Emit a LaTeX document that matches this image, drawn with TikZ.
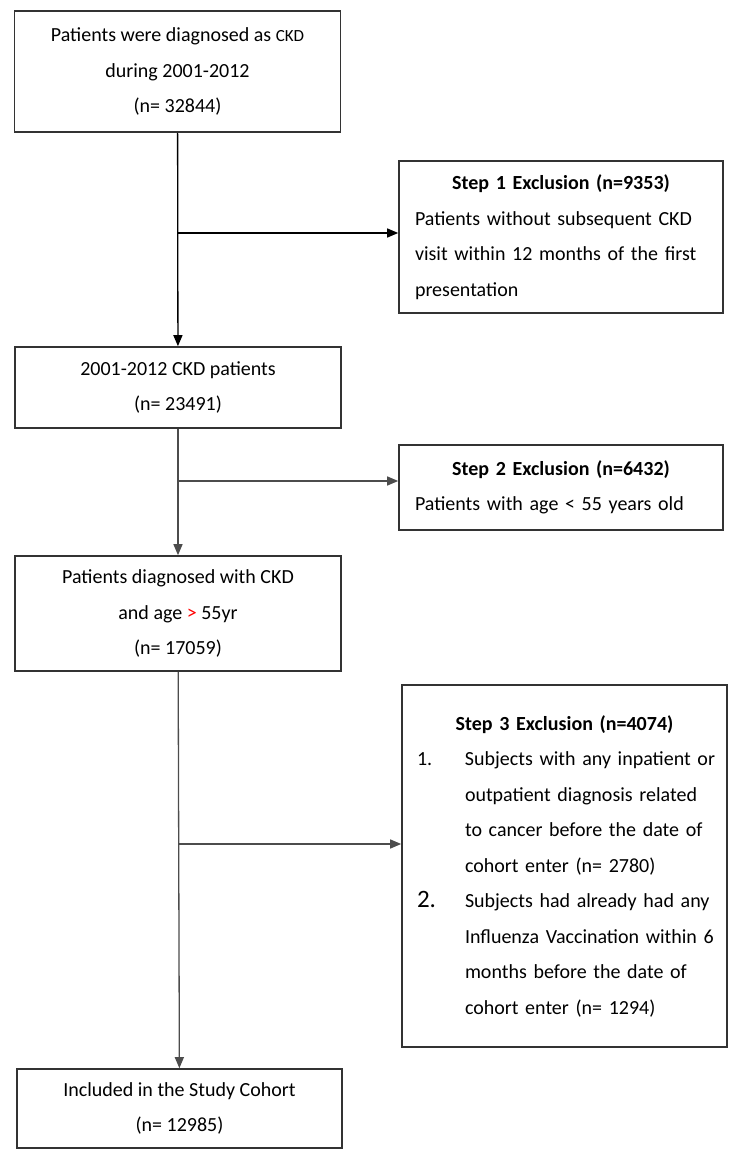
\documentclass[tikz,border=0pt]{standalone}
\usepackage{fontspec}
\setmainfont{Carlito}
\usetikzlibrary{arrows.meta}
\setlength{\parindent}{0pt}

\begin{document}
\begin{tikzpicture}[x=1pt,y=-1pt,
    flowbox/.style ={draw=black!80, line width=1.6pt, align=center,
      font=\fontsize{20}{35.5}\selectfont, minimum width=326pt},
    exclusion/.style ={draw=black!80, line width=1.6pt, text width=292pt,
      inner xsep=16pt, font=\fontsize{20}{35.5}\selectfont},
    connector/.style ={line width=1.3pt, -{Triangle[length=11pt,width=9pt]}}]
   \useasboundingbox (0,0) rectangle (738,1165);

   \node[flowbox, minimum height=121pt] (diagnosed) at (177.5,71.5)
     {Patients were diagnosed as {\fontsize{17}{35.5}\selectfont CKD}\\ during 2001-2012\\ (n= 32844)};
   \node[exclusion, minimum height=152pt] (step1) at (561,237)
     {{\centering\textbf{Step 1 Exclusion (n=9353)}\par}
      \raggedright Patients without subsequent CKD\\ visit within 12 months of the first\\ presentation};
   \node[flowbox, minimum height=81pt] (ckd) at (178,387.5)
     {2001-2012 CKD patients\\ (n= 23491)};
   \node[exclusion, minimum height=85pt] (step2) at (561,487.5)
     {{\centering\textbf{Step 2 Exclusion (n=6432)}\par}
      \raggedright Patients with age < 55 years old};
   \node[exclusion, minimum height=362pt, text width=295pt, inner xsep=15pt] (step3) at (564.5,866)
     {{\centering\textbf{Step 3 Exclusion (n=4074)}\par}
      \raggedright\rightskip=-30pt plus 1fil\leftskip=48pt
      \leavevmode\llap{\makebox[48pt][l]{1.}}Subjects with any inpatient or\\
      outpatient diagnosis related\\ to cancer before the date of\\ cohort enter (n= 2780)\par
      \leavevmode\llap{\makebox[48pt][l]{\fontsize{25}{35.5}\selectfont 2.}}Subjects had already had any\\
      Influenza Vaccination within 6\\ months before the date of\\ cohort enter (n= 1294)\par};
   \node[flowbox, minimum height=115pt] (aged) at (178,613.5)
     {Patients diagnosed with CKD\\ and age \textcolor{red}{>} 55yr\\ (n= 17059)};
   \node[flowbox, minimum height=79pt, minimum width=325pt] (cohort) at (179.5,1108.5)
     {Included in the Study Cohort\\ (n= 12985)};

   % branch points on the main line
   \coordinate (b1) at (diagnosed.south |- 0,233);
   \coordinate (b2) at (ckd.south |- 0,481);
   \coordinate (b3) at (aged.south |- 0,844);

   \draw[connector] (diagnosed) to (ckd);
   \draw[connector] (b1) to (b1 -| step1.west);
   \draw[connector, black!70] (ckd) to (aged);
   \draw[connector, black!70] (b2) to (b2 -| step2.west);
   \draw[connector, black!70] (aged) to (cohort);
   \draw[connector, black!70] (b3) to (b3 -| step3.west);
 \end{tikzpicture}
\end{document}
